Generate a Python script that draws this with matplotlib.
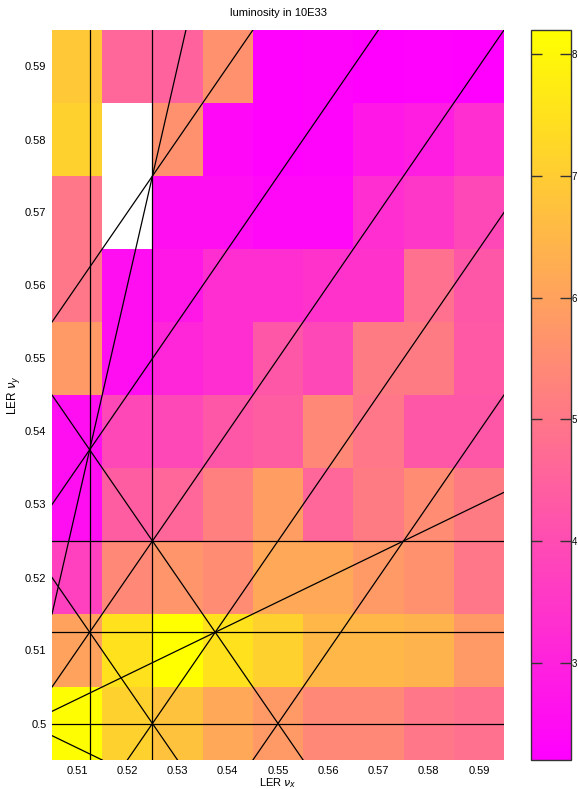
import numpy as np
import matplotlib
matplotlib.use('Agg')
import matplotlib.pyplot as plt

plt.rcParams['font.family'] = ['Liberation Sans', 'DejaVu Sans']

# tune scan grid (cell centres)
nu_x = [0.51, 0.52, 0.53, 0.54, 0.55, 0.56, 0.57, 0.58, 0.59]
nu_y = [0.50, 0.51, 0.52, 0.53, 0.54, 0.55, 0.56, 0.57, 0.58, 0.59]

# luminosity in 10E33, one row per nu_y (bottom to top), nan = no result
nan = np.nan
lumi = [
    [8.15, 7.1, 6.75, 6.15, 5.8, 5.4, 5.4, 5.0, 4.85],   # 0.50
    [6.0, 7.5, 8.2, 7.5, 7.1, 6.5, 6.5, 6.4, 5.8],       # 0.51
    [3.7, 5.4, 5.7, 5.5, 6.15, 6.15, 5.8, 5.6, 5.0],     # 0.52
    [2.55, 4.4, 4.6, 5.2, 5.9, 4.6, 5.1, 5.5, 5.1],      # 0.53
    [2.55, 3.9, 3.9, 4.25, 4.4, 5.4, 5.0, 4.25, 4.25],   # 0.54
    [5.8, 2.55, 3.1, 3.3, 4.25, 3.9, 5.1, 5.1, 4.3],     # 0.55
    [5.0, 2.55, 2.75, 3.3, 3.3, 3.4, 3.4, 4.85, 4.25],   # 0.56
    [5.0, nan, 2.55, 2.55, 2.4, 2.4, 3.3, 3.5, 3.9],     # 0.57
    [7.1, nan, 5.6, 2.4, 2.25, 2.3, 2.75, 2.9, 3.3],     # 0.58
    [6.9, 4.6, 4.5, 5.6, 2.25, 2.3, 2.2, 2.25, 2.2],     # 0.59
]

# resonance lines a*nu_x + b*nu_y = c
resonances = [
    (1, 0, 0.5125), (1, 0, 0.525),
    (0, 1, 0.5), (0, 1, 0.5125), (0, 1, 0.525),
    (-1, 1, 0.0), (-1, 1, 0.025), (-1, 1, 0.05), (-1, 1, -0.025), (-1, 1, -0.05),
    (1, 1, 1.025), (1, 1, 1.05),
    (-1, 3, 1.0), (1, 3, 2.0), (3, -1, 1.0),
]

Z = np.array(lumi)
step = 0.01
xe = np.append(np.array(nu_x) - step / 2, nu_x[-1] + step / 2)
ye = np.append(np.array(nu_y) - step / 2, nu_y[-1] + step / 2)

fig = plt.figure(figsize=(5.78, 7.89), dpi=100)
ax = fig.add_axes([52 / 578, 29 / 789, 452 / 578, 730 / 789])
mesh = ax.pcolormesh(xe, ye, np.ma.masked_invalid(Z), cmap='spring',
                     vmin=np.nanmin(Z), vmax=np.nanmax(Z))

for a, b, c in resonances:
    if b == 0:
        ax.axvline(c / a, color='black', lw=0.9)
    else:
        x0 = 0.55
        ax.axline((x0, (c - a * x0) / b), slope=-a / b, color='black', lw=0.9)

ax.set_xlim(xe[0], xe[-1])
ax.set_ylim(ye[0], ye[-1])
ax.set_xticks(nu_x)
ax.set_yticks(nu_y)
ax.set_xticklabels(['%g' % v for v in nu_x])
ax.set_yticklabels(['%g' % v for v in nu_y])
ax.tick_params(labelsize=8, length=0)
ax.tick_params(axis='x', pad=4)
ax.tick_params(axis='y', pad=4)
for s in ax.spines.values():
    s.set_visible(False)

ax.set_title('luminosity in 10E33', fontsize=8, pad=10)
ax.set_xlabel(r'LER $\nu_x$', fontsize=8, labelpad=0.5)
ax.set_ylabel(r'LER $\nu_y$', fontsize=8.5, labelpad=2)

cax = fig.add_axes([531 / 578, 29 / 789, 40 / 578, 730 / 789])
cbar = fig.colorbar(mesh, cax=cax)
cbar.set_ticks([3, 4, 5, 6, 7, 8])
cax.tick_params(direction='in', left=True, right=True, length=8,
                width=1, labelsize=7, pad=0.5, color='#333333')
cbar.outline.set_edgecolor('#333333')
cbar.outline.set_linewidth(1)

fig.savefig('out.png', dpi=100)
